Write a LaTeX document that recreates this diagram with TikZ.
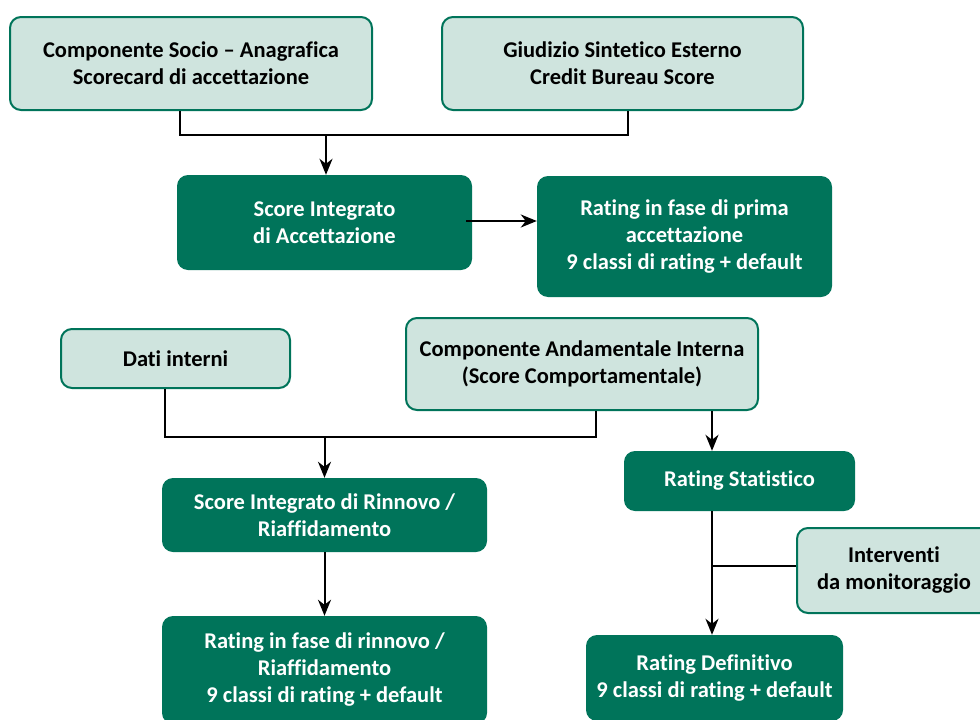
\documentclass[tikz,border=0pt]{standalone}
\usepackage{fontspec}
\setmainfont{Carlito}[Ligatures=NoCommon]
\usetikzlibrary{arrows.meta}
\definecolor{dkgreen}{HTML}{00745A}
\definecolor{ltgreen}{HTML}{CFE4DE}
\tikzset{
  box/.style={rounded corners=11pt, align=center, inner sep=0pt,
    font=\fontsize{22.5}{27}\selectfont\bfseries},
  light/.style={box, draw=dkgreen, line width=2pt, fill=ltgreen, text=black},
  dark/.style={box, fill=dkgreen, text=white},
  conn/.style={line width=2pt, black},
  arr/.style={conn, -{Stealth[length=16pt,width=13pt,inset=5pt]}}
}
\begin{document}
\begin{tikzpicture}[x=1pt,y=-1pt]
\useasboundingbox (0,0) rectangle (980,720);
\clip (0,0) rectangle (980,720);
\fill[white] (0,0) rectangle (980,720);
% nodes
\node[light, minimum width=362pt, minimum height=93pt] (n1) at (191,63.5)
  {Componente Socio – Anagrafica\\Scorecard di accettazione};
\node[light, minimum width=361pt, minimum height=93pt] (n2) at (622.5,63.5)
  {Giudizio Sintetico Esterno\\Credit Bureau Score};
\node[dark, minimum width=295pt, minimum height=95pt] (n3) at (324.5,222.5)
  {Score Integrato\\di Accettazione};
\node[dark, minimum width=295pt, minimum height=121pt] (n4) at (684.5,236.5)
  {Rating in fase di prima\\accettazione\\9 classi di rating + default};
\node[light, minimum width=229pt, minimum height=59pt] (n5) at (175.5,358.5)
  {Dati interni};
\node[light, minimum width=352pt, minimum height=92pt] (n6) at (582,364)
  {Componente Andamentale Interna\\(Score Comportamentale)};
\node[dark, minimum width=325pt, minimum height=74pt] (n7) at (324.5,515)
  {Score Integrato di Rinnovo /\\Riaffidamento};
\node[dark, minimum width=325pt, minimum height=108pt] (n8) at (324.5,670)
  {Rating in fase di rinnovo /\\Riaffidamento\\9 classi di rating + default};
\node[dark, minimum width=231pt, minimum height=60pt] (n9) at (739.5,481)
  {Rating Statistico};
\node[light, minimum width=194pt, minimum height=85pt] (n10) at (894,570.5)
  {Interventi\\da monitoraggio};
\node[dark, minimum width=257pt, minimum height=86pt] (n11) at (714.5,678)
  {Rating Definitivo\\9 classi di rating + default};
% junction coordinates
\coordinate (c1) at (180,135);
\coordinate (c2) at (628,135);
\coordinate (j1) at (326,135);
\coordinate (j2) at (466,221);
\coordinate (c3) at (165,437);
\coordinate (c4) at (596,437);
\coordinate (c5) at (712,437);
\coordinate (c6) at (712,566);
% connectors
\draw[conn] (n1.south -| c1) -- (c1) -- (c2) -- (n2.south -| c2);
\draw[arr] (j1) -- (n3.north -| j1);
\draw[arr] (j2) -- (j2 -| n4.west);
\draw[conn] (n5.south -| c3) -- (c3) -- (c4) -- (n6.south -| c4);
\draw[arr] (n7.north |- c3) -- (n7.north);
\draw[arr] (n7.south) -- (n8.north);
\draw[arr] (n6.south -| c5) -- (n9.north -| c5);
\draw[arr] (n9.south -| c5) -- (n11.north -| c5);
\draw[conn] (n10.west |- c6) -- (c6);
\end{tikzpicture}
\end{document}
